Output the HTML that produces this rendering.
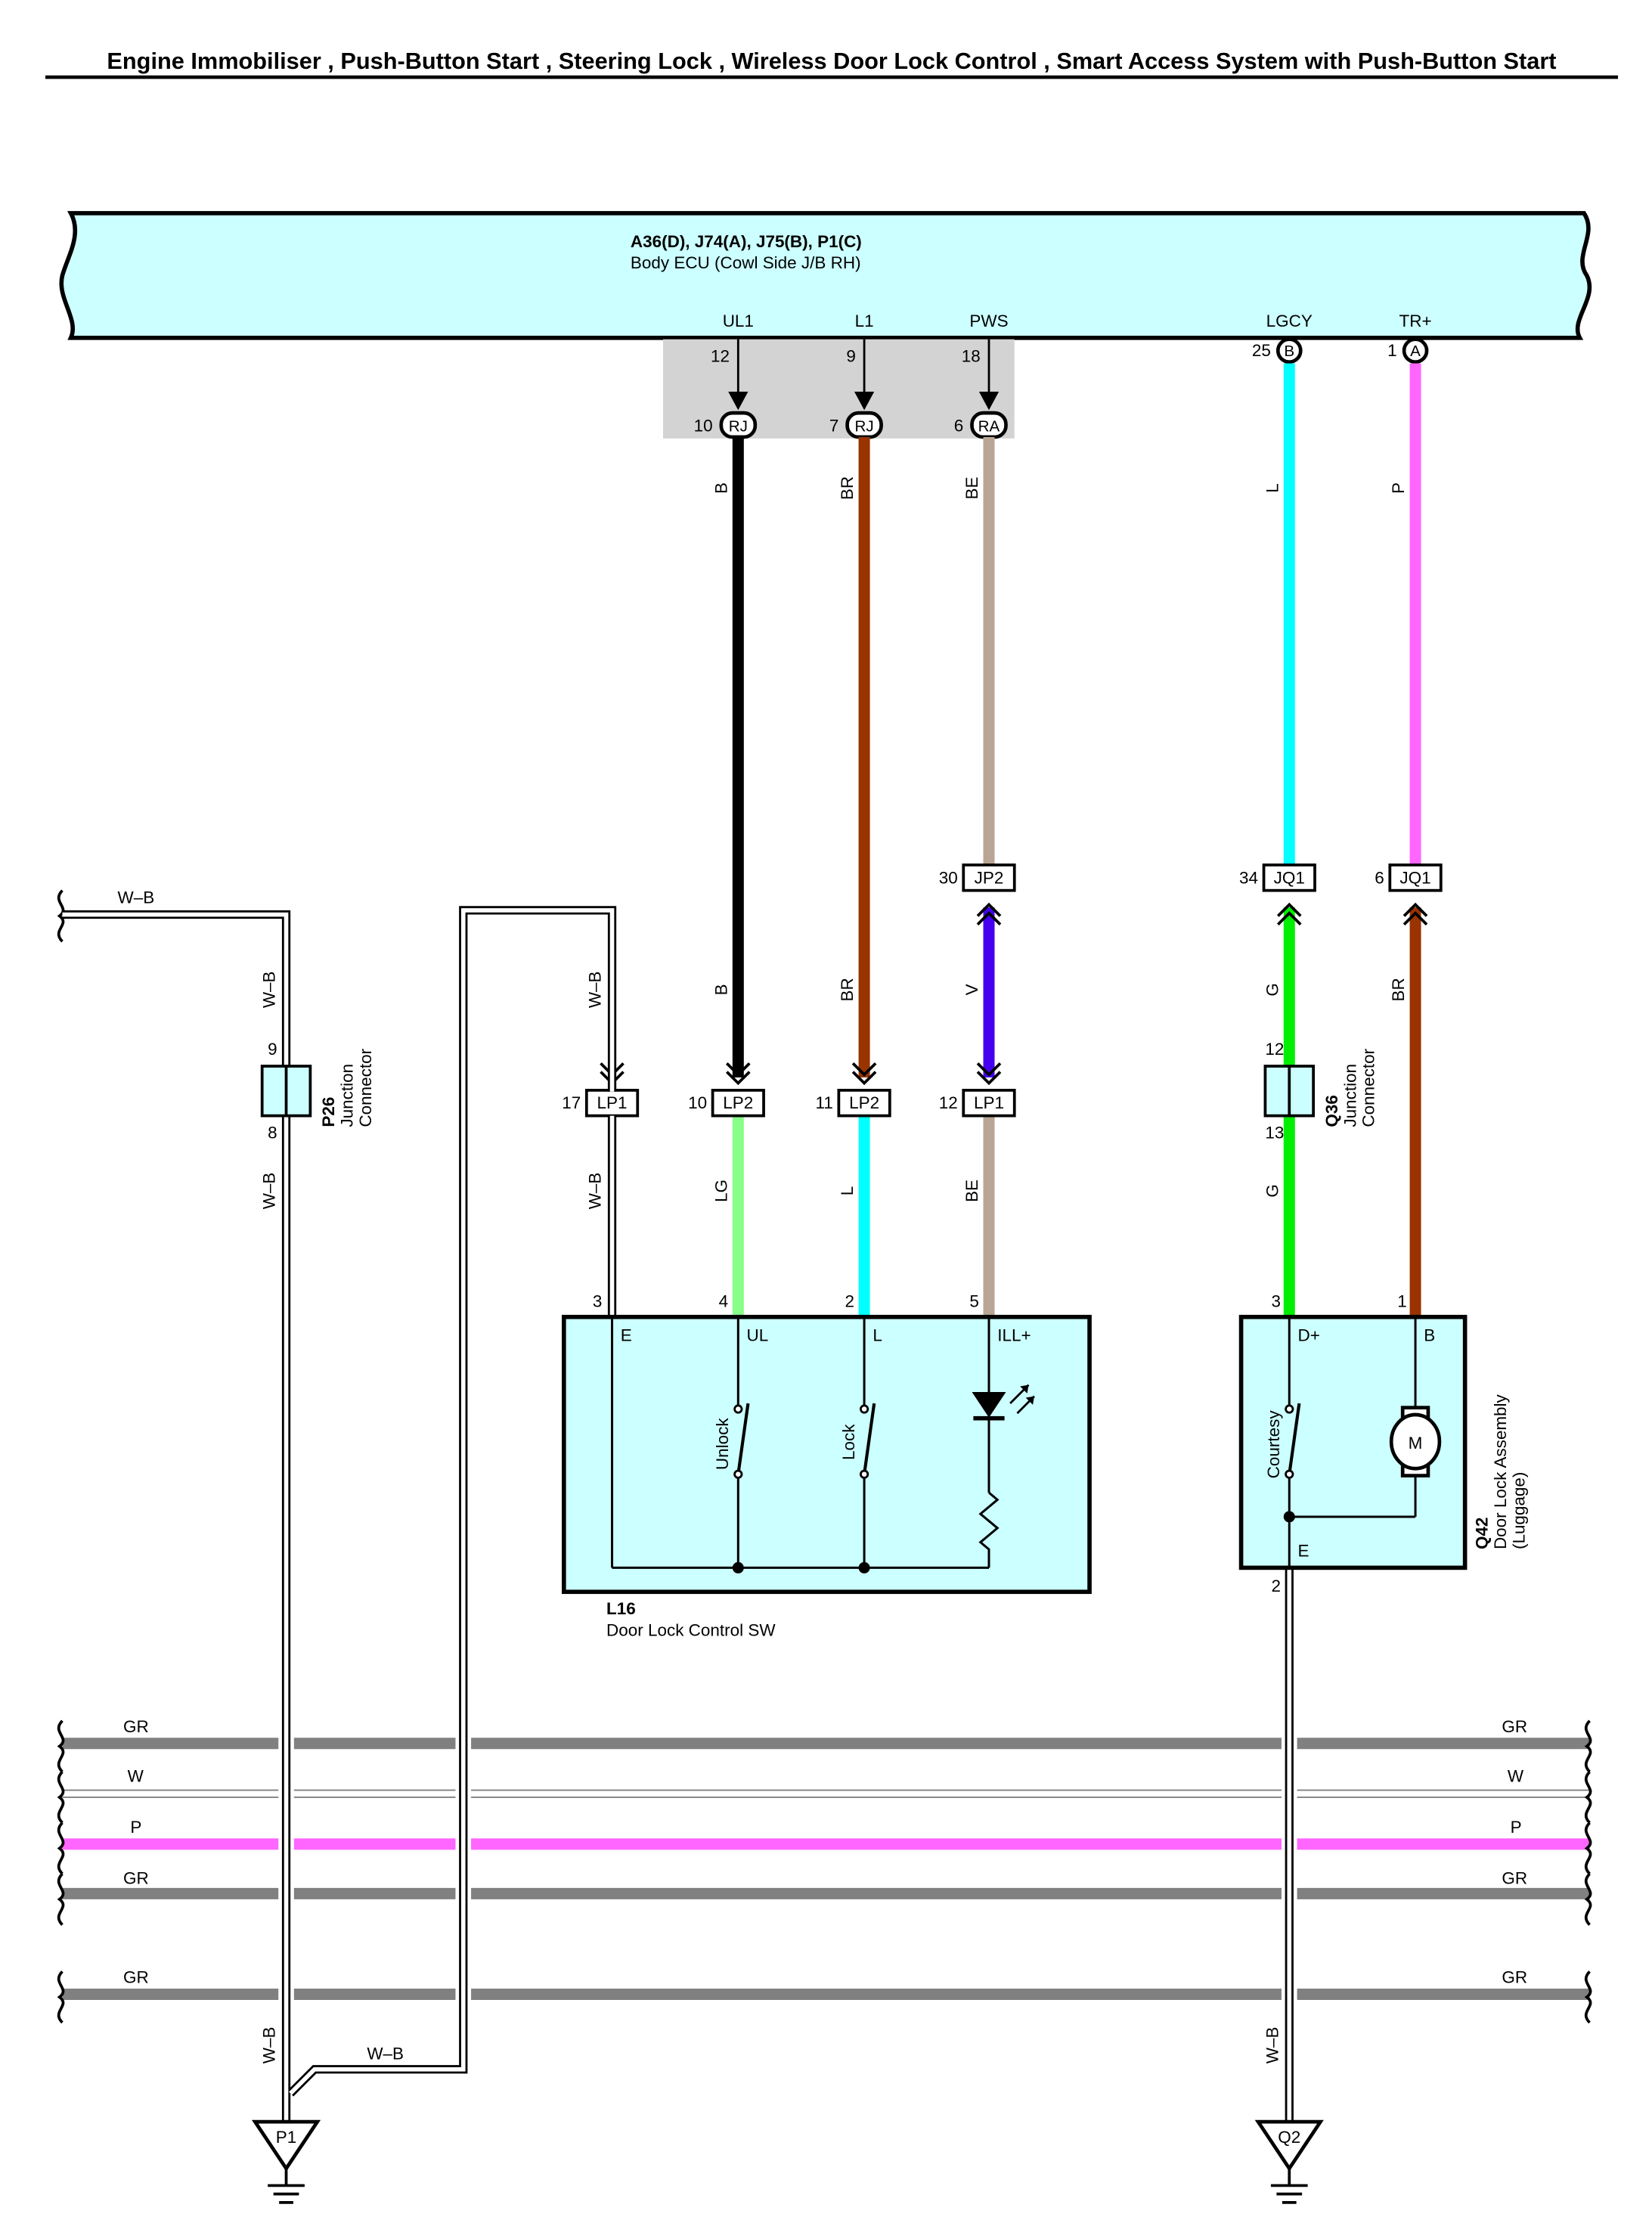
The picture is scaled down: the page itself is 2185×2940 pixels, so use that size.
<!DOCTYPE html>
<html><head><meta charset="utf-8"><style>html,body{margin:0;padding:0;background:#fff}svg{display:block}text{font-family:"Liberation Sans",sans-serif;fill:#000}</style></head><body>
<svg width="2185" height="2940" viewBox="0 0 1166 1568" xmlns="http://www.w3.org/2000/svg">
<text x="587" y="48" font-size="16.4" font-weight="bold" text-anchor="middle">Engine Immobiliser , Push-Button Start , Steering Lock , Wireless Door Lock Control , Smart Access System with Push-Button Start</text>
<line x1="32" y1="54" x2="1142" y2="54" stroke="#000" stroke-width="2.5"/>
<!-- ECU -->
<path d="M50,150 H1118 C1128,165 1110,180 1120,194 C1128,210 1108,225 1115,238 H50 C56,225 40,210 44,194 C48,180 58,165 50,150 Z" fill="#ccffff" stroke="#000" stroke-width="3"/>
<text x="445" y="174" font-size="12" font-weight="bold">A36(D), J74(A), J75(B), P1(C)</text>
<text x="445" y="189" font-size="12">Body ECU (Cowl Side J/B RH)</text>
<g font-size="12" text-anchor="middle"><text x="521" y="230">UL1</text><text x="610" y="230">L1</text><text x="698" y="230">PWS</text><text x="910" y="230">LGCY</text><text x="999" y="230">TR+</text></g>
<rect x="468" y="239" width="248" height="70" fill="#d3d3d3"/>
<g stroke="#000" stroke-width="1.5"><line x1="521" y1="239" x2="521" y2="280"/><line x1="610" y1="239" x2="610" y2="280"/><line x1="698" y1="239" x2="698" y2="280"/></g>
<g fill="#000"><path d="M514,276 L521,289 L528,276 Z"/><path d="M603,276 L610,289 L617,276 Z"/><path d="M691,276 L698,289 L705,276 Z"/></g>
<g font-size="12" text-anchor="end"><text x="515" y="255">12</text><text x="604" y="255">9</text><text x="692" y="255">18</text><text x="503" y="304">10</text><text x="592" y="304">7</text><text x="680" y="304">6</text><text x="897" y="251">25</text><text x="986" y="251">1</text></g>
<g fill="#fff" stroke="#000" stroke-width="2.5"><rect x="509" y="291" width="24" height="17" rx="8"/><rect x="598" y="291" width="24" height="17" rx="8"/><rect x="686" y="291" width="24" height="17" rx="8"/><circle cx="910" cy="247" r="8"/><circle cx="999" cy="247" r="8"/></g>
<g font-size="11" text-anchor="middle"><text x="521" y="304">RJ</text><text x="610" y="304">RJ</text><text x="698" y="304">RA</text><text x="910" y="251">B</text><text x="999" y="251">A</text></g>
<!-- colored wires -->
<g stroke-width="8">
<line x1="521" y1="308" x2="521" y2="760" stroke="#000"/>
<line x1="610" y1="308" x2="610" y2="760" stroke="#993300"/>
<line x1="698" y1="308" x2="698" y2="610" stroke="#b8a595"/>
<line x1="698" y1="640" x2="698" y2="760" stroke="#4400ee"/>
<line x1="910" y1="256" x2="910" y2="610" stroke="#00ffff"/>
<line x1="910" y1="640" x2="910" y2="928" stroke="#00ee00"/>
<line x1="999" y1="256" x2="999" y2="610" stroke="#ff66ff"/>
<line x1="999" y1="640" x2="999" y2="928" stroke="#993300"/>
<line x1="521" y1="787" x2="521" y2="928" stroke="#88ff88"/>
<line x1="610" y1="787" x2="610" y2="928" stroke="#00ffff"/>
<line x1="698" y1="787" x2="698" y2="928" stroke="#b8a595"/>
</g>
<!-- chevrons -->
<g fill="none" stroke="#000" stroke-width="2">
<path d="M513,750 L521,758 L529,750 M513,756 L521,764 L529,756"/>
<path d="M602,750 L610,758 L618,750 M602,756 L610,764 L618,756"/>
<path d="M690,750 L698,758 L706,750 M690,756 L698,764 L706,756"/>
<path d="M424,750 L432,758 L440,750 M424,756 L432,764 L440,756"/>
<path d="M690,646 L698,638 L706,646 M690,652 L698,644 L706,652"/>
<path d="M902,646 L910,638 L918,646 M902,652 L910,644 L918,652"/>
<path d="M991,646 L999,638 L1007,646 M991,652 L999,644 L1007,652"/>
</g>
<!-- connector boxes -->
<g fill="#fff" stroke="#000" stroke-width="2">
<rect x="680" y="610" width="36" height="18"/><rect x="892" y="610" width="36" height="18"/><rect x="981" y="610" width="36" height="18"/>
<rect x="414" y="769" width="36" height="18"/><rect x="503" y="769" width="36" height="18"/><rect x="592" y="769" width="36" height="18"/><rect x="680" y="769" width="36" height="18"/>
</g>
<g font-size="12" text-anchor="middle"><text x="698" y="623">JP2</text><text x="910" y="623">JQ1</text><text x="999" y="623">JQ1</text><text x="432" y="782">LP1</text><text x="521" y="782">LP2</text><text x="610" y="782">LP2</text><text x="698" y="782">LP1</text></g>
<g font-size="12" text-anchor="end"><text x="676" y="623">30</text><text x="888" y="623">34</text><text x="977" y="623">6</text><text x="410" y="782">17</text><text x="499" y="782">10</text><text x="588" y="782">11</text><text x="676" y="782">12</text></g>
<!-- rotated wire labels -->
<g font-size="12" text-anchor="middle">
<text transform="translate(513,344) rotate(-90)">B</text><text transform="translate(602,344) rotate(-90)">BR</text><text transform="translate(690,344) rotate(-90)">BE</text><text transform="translate(902,344) rotate(-90)">L</text><text transform="translate(991,344) rotate(-90)">P</text>
<text transform="translate(513,698) rotate(-90)">B</text><text transform="translate(602,698) rotate(-90)">BR</text><text transform="translate(690,698) rotate(-90)">V</text><text transform="translate(902,698) rotate(-90)">G</text><text transform="translate(991,698) rotate(-90)">BR</text>
<text transform="translate(513,840) rotate(-90)">LG</text><text transform="translate(602,840) rotate(-90)">L</text><text transform="translate(690,840) rotate(-90)">BE</text><text transform="translate(902,840) rotate(-90)">G</text>
<text transform="translate(424,840) rotate(-90)">W–B</text><text transform="translate(424,698) rotate(-90)">W–B</text>
<text transform="translate(194,698) rotate(-90)">W–B</text><text transform="translate(194,840) rotate(-90)">W–B</text>
<text transform="translate(194,1443) rotate(-90)">W–B</text><text transform="translate(902,1443) rotate(-90)">W–B</text>
</g>
<text x="96" y="637" font-size="12" text-anchor="middle">W–B</text>
<text x="272" y="1453" font-size="12" text-anchor="middle">W–B</text>
<!-- buses -->
<g>
<line x1="44" y1="1230" x2="1122" y2="1230" stroke="#808080" stroke-width="8"/>
<line x1="44" y1="1263" x2="1122" y2="1263" stroke="#808080" stroke-width="1"/>
<line x1="44" y1="1268" x2="1122" y2="1268" stroke="#808080" stroke-width="1"/>
<line x1="44" y1="1301" x2="1122" y2="1301" stroke="#ff66ff" stroke-width="8"/>
<line x1="44" y1="1336" x2="1122" y2="1336" stroke="#808080" stroke-width="8"/>
<line x1="44" y1="1407" x2="1122" y2="1407" stroke="#808080" stroke-width="8"/>
</g>
<g fill="none" stroke="#000" stroke-width="2">
<path d="M44,1214 C36,1222 50,1226 42,1232 C50,1238 36,1242 44,1250"/><path d="M44,1250 C36,1258 50,1262 42,1268 C50,1274 36,1278 44,1286"/><path d="M44,1286 C36,1294 50,1298 42,1304 C50,1310 36,1314 44,1322"/><path d="M44,1322 C36,1330 50,1334 42,1340 C50,1346 36,1350 44,1358"/><path d="M44,1391 C36,1399 50,1403 42,1409 C50,1415 36,1419 44,1427"/>
<path d="M1122,1214 C1114,1222 1128,1226 1120,1232 C1128,1238 1114,1242 1122,1250"/><path d="M1122,1250 C1114,1258 1128,1262 1120,1268 C1128,1274 1114,1278 1122,1286"/><path d="M1122,1286 C1114,1294 1128,1298 1120,1304 C1128,1310 1114,1314 1122,1322"/><path d="M1122,1322 C1114,1330 1128,1334 1120,1340 C1128,1346 1114,1350 1122,1358"/><path d="M1122,1391 C1114,1399 1128,1403 1120,1409 C1128,1415 1114,1419 1122,1427"/>
<path d="M44,628 C36,636 50,640 42,646 C50,652 36,656 44,664"/>
</g>
<g font-size="12"><text x="87" y="1222">GR</text><text x="90" y="1257">W</text><text x="92" y="1293">P</text><text x="87" y="1329">GR</text><text x="87" y="1399">GR</text>
<text x="1060" y="1222">GR</text><text x="1064" y="1257">W</text><text x="1066" y="1293">P</text><text x="1060" y="1329">GR</text><text x="1060" y="1399">GR</text></g>
<!-- gaps -->
<g stroke="#fff" stroke-width="11"><line x1="202" y1="1218" x2="202" y2="1420"/><line x1="327" y1="1218" x2="327" y2="1420"/><line x1="910" y1="1218" x2="910" y2="1420"/></g>
<!-- double W-B wires -->
<g fill="none" stroke-linejoin="miter">
<path d="M44,645 H202 V1497 M432,770 V642 H327 V1460 H222 L205,1477 M432,787 V928 M910,1106 V1497" stroke="#000" stroke-width="6"/>
<path d="M44,645 H202 V1497 M432,770 V642 H327 V1460 H222 L205,1477 M432,787 V928 M910,1106 V1497" stroke="#fff" stroke-width="3"/>
</g>
<!-- junction connectors -->
<g fill="#ccffff" stroke="#000" stroke-width="2"><rect x="185" y="752" width="34" height="35"/><rect x="893" y="752" width="34" height="35"/></g>
<g stroke="#000" stroke-width="2"><line x1="202" y1="752" x2="202" y2="787"/><line x1="910" y1="752" x2="910" y2="787"/></g>
<g font-size="12"><text x="189" y="744">9</text><text x="189" y="803">8</text><text x="893" y="744">12</text><text x="893" y="803">13</text></g>
<g font-size="12"><text transform="translate(236,795) rotate(-90)" font-weight="bold">P26</text><text transform="translate(249,795) rotate(-90)">Junction</text><text transform="translate(262,795) rotate(-90)">Connector</text>
<text transform="translate(944,795) rotate(-90)" font-weight="bold">Q36</text><text transform="translate(957,795) rotate(-90)">Junction</text><text transform="translate(970,795) rotate(-90)">Connector</text></g>
<!-- L16 -->
<rect x="398" y="929" width="371" height="194" fill="#ccffff" stroke="#000" stroke-width="3"/>
<g stroke="#000" stroke-width="1.6" fill="none">
<line x1="432" y1="929" x2="432" y2="1106"/><line x1="432" y1="1106" x2="698" y2="1106"/>
<line x1="521" y1="929" x2="521" y2="994"/><line x1="521" y1="1040" x2="521" y2="1106"/>
<line x1="610" y1="929" x2="610" y2="994"/><line x1="610" y1="1040" x2="610" y2="1106"/>
<line x1="698" y1="929" x2="698" y2="982"/><line x1="698" y1="1000" x2="698" y2="1053"/>
<path d="M698,1053 l6,5 l-12,10 l12,10 l-12,10 l6,5 V1106"/>
<line x1="521" y1="1040" x2="528" y2="990" stroke-width="2.2"/><line x1="610" y1="1040" x2="617" y2="990" stroke-width="2.2"/>
</g>
<g fill="#fff" stroke="#000" stroke-width="1.5"><circle cx="521" cy="994" r="2.5"/><circle cx="521" cy="1040" r="2.5"/><circle cx="610" cy="994" r="2.5"/><circle cx="610" cy="1040" r="2.5"/></g>
<g fill="#000"><circle cx="521" cy="1106" r="4"/><circle cx="610" cy="1106" r="4"/>
<path d="M686,982 H710 L698,1000 Z"/><rect x="687" y="999" width="22" height="3"/></g>
<g stroke="#000" stroke-width="1.5"><line x1="713" y1="990" x2="726" y2="977"/><line x1="718" y1="997" x2="730" y2="985"/></g>
<g fill="#000"><path d="M726,977 l-6,1 l5,5 Z"/><path d="M730,985 l-6,1 l5,5 Z"/></g>
<g font-size="12"><text x="438" y="946">E</text><text x="527" y="946">UL</text><text x="616" y="946">L</text><text x="704" y="946">ILL+</text>
<text transform="translate(514,1037) rotate(-90)">Unlock</text><text transform="translate(603,1030) rotate(-90)">Lock</text>
<text x="425" y="922" text-anchor="end">3</text><text x="514" y="922" text-anchor="end">4</text><text x="603" y="922" text-anchor="end">2</text><text x="691" y="922" text-anchor="end">5</text>
<text x="428" y="1139" font-weight="bold">L16</text><text x="428" y="1154">Door Lock Control SW</text></g>
<!-- Q42 -->
<rect x="876" y="929" width="158" height="177" fill="#ccffff" stroke="#000" stroke-width="3"/>
<g stroke="#000" stroke-width="1.6" fill="none"><line x1="910" y1="929" x2="910" y2="994"/><line x1="910" y1="1040" x2="910" y2="1106"/><line x1="910" y1="1040" x2="917" y2="990" stroke-width="2.2"/><line x1="999" y1="929" x2="999" y2="994"/><line x1="999" y1="1040" x2="999" y2="1070"/><line x1="910" y1="1070" x2="999" y2="1070"/></g>
<g fill="#fff" stroke="#000" stroke-width="1.5"><circle cx="910" cy="994" r="2.5"/><circle cx="910" cy="1040" r="2.5"/></g>
<circle cx="910" cy="1070" r="4" fill="#000"/>
<g stroke="#000" stroke-width="2.5" fill="#fff"><rect x="990" y="993" width="18" height="48"/><ellipse cx="999" cy="1017" rx="17" ry="19"/></g>
<text x="999" y="1022" font-size="12" text-anchor="middle">M</text>
<g font-size="12"><text x="916" y="946">D+</text><text x="1005" y="946">B</text><text x="916" y="1098">E</text>
<text transform="translate(903,1043) rotate(-90)">Courtesy</text>
<text x="904" y="922" text-anchor="end">3</text><text x="993" y="922" text-anchor="end">1</text><text x="904" y="1123" text-anchor="end">2</text>
<text transform="translate(1050,1093) rotate(-90)" font-weight="bold">Q42</text><text transform="translate(1063,1093) rotate(-90)">Door Lock Assembly</text><text transform="translate(1076,1093) rotate(-90)">(Luggage)</text></g>
<!-- grounds -->
<g stroke="#000" stroke-width="2.5" fill="#fff"><path d="M180,1497 H224 L202,1530 Z"/><path d="M888,1497 H932 L910,1530 Z"/></g>
<g stroke="#000" stroke-width="2"><line x1="202" y1="1530" x2="202" y2="1542"/><line x1="189" y1="1542" x2="215" y2="1542"/><line x1="193" y1="1548" x2="211" y2="1548"/><line x1="197" y1="1554" x2="207" y2="1554"/>
<line x1="910" y1="1530" x2="910" y2="1542"/><line x1="897" y1="1542" x2="923" y2="1542"/><line x1="901" y1="1548" x2="919" y2="1548"/><line x1="905" y1="1554" x2="915" y2="1554"/></g>
<g font-size="12" text-anchor="middle"><text x="202" y="1512">P1</text><text x="910" y="1512">Q2</text></g>
</svg>
</body></html>
